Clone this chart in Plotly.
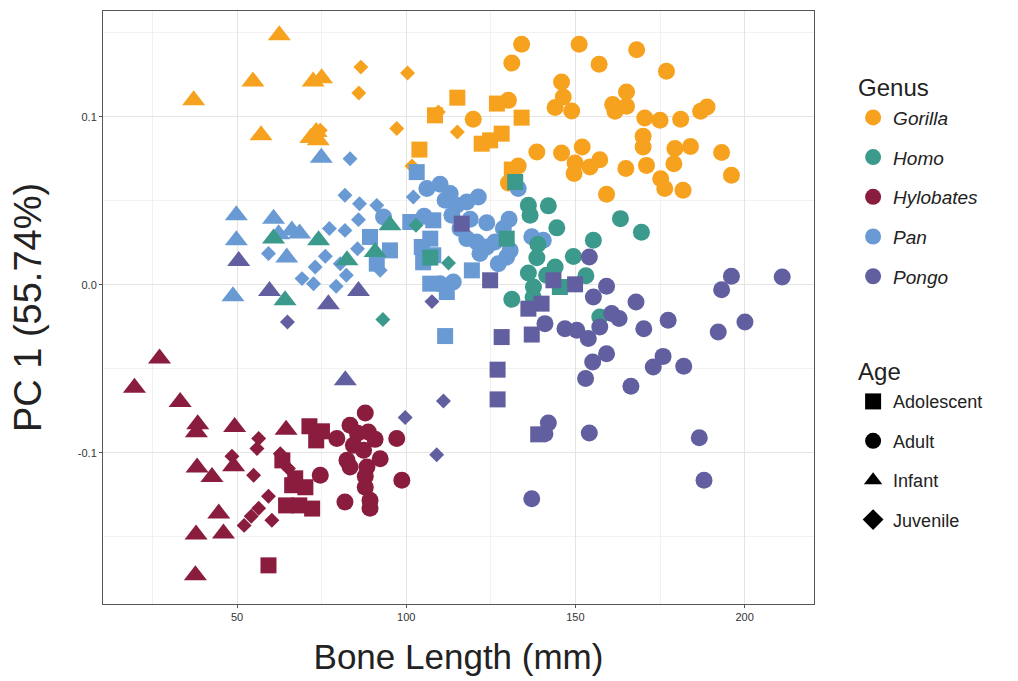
import plotly.graph_objects as go

# ---------------- data (Bone Length mm, PC1) ----------------
GENERA = ["Gorilla", "Homo", "Hylobates", "Pan", "Pongo"]
AGES = ["Adolescent", "Adult", "Infant", "Juvenile"]

gorilla_len = [62.5, 54.7, 72.5, 75.0, 37.2, 57.1, 71.8, 74.0, 73.4,
               86.6, 100.4, 86.0, 97.2, 74.6, 101.7, 115.1, 109.5,
               115.1, 108.5, 126.8, 134.1, 122.3, 124.8, 128.2, 103.9, 131.2,
               134.1, 151.1, 168.1, 131.2, 157.0, 176.9, 145.9, 146.4, 144.0, 148.9,
               165.1, 161.0, 161.7, 165.1, 130.2, 119.8, 170.5, 175.0, 181.1, 187.0,
               188.9, 138.6, 145.9, 152.0, 149.9, 149.6, 154.3, 157.2, 164.9, 170.0,
               170.0, 171.0, 179.4, 184.0, 179.1, 193.2, 196.1, 175.2, 176.4, 181.8,
               159.2, 133.1, 130.2]
gorilla_pc1 = [0.1485, 0.1211, 0.121, 0.123, 0.1098, 0.089, 0.0874, 0.086, 0.091,
               0.1296, 0.1261, 0.1142, 0.0930, 0.0920, 0.0707, 0.0910, 0.1029,
               0.1114, 0.1009, 0.1079, 0.0995, 0.0840, 0.0860, 0.0900, 0.0805, 0.0686,
               0.1432, 0.1432, 0.1400, 0.1320, 0.1313, 0.1271, 0.1207, 0.1118, 0.1055, 0.1035,
               0.1148, 0.1074, 0.1033, 0.1063, 0.1098, 0.0985, 0.0993, 0.0979, 0.0985, 0.1033,
               0.1058, 0.0790, 0.0785, 0.0820, 0.0725, 0.0662, 0.0701, 0.0745, 0.0692, 0.0884,
               0.0820, 0.0711, 0.0811, 0.0824, 0.0721, 0.0787, 0.0652, 0.0632, 0.0573, 0.0563,
               0.0539, 0.0707, 0.0606]
gorilla_age = ["Infant"] * 9 + ["Juvenile"] * 8 + ["Adolescent"] * 9 + ["Adult"] * 43

pan_len = [49.8, 49.8, 48.8, 60.8, 66.2, 68.5, 64.7, 62.3, 74.9,
           83.4, 81.9, 86.2, 91.3, 85.9, 77.3, 81.9, 102.1, 85.6, 76.1, 73.1, 69.2,
           80.5, 82.3, 79.3, 59.3, 92.3, 72.6,
           103.1, 101.2, 108.0, 89.3, 95.2, 91.3, 104.6, 107.1, 108.0, 119.4, 107.1,
           112.0, 111.5, 105.0,
           106.1, 110.0, 113.0, 111.5, 114.9, 117.9, 121.3, 113.5, 118.9, 123.8, 117.9,
           120.8, 123.8, 126.2, 128.7, 130.4, 130.7, 127.2, 129.7, 121.8, 113.9, 110.0,
           93.3, 133.1, 137.1, 140.5, 105.3, 115.9]
pan_pc1 = [0.0414, 0.0265, -0.0068, 0.0394, 0.0324, 0.0305, 0.0162, 0.0301, 0.0757,
           0.0751, 0.0533, 0.0483, 0.0473, 0.0388, 0.0335, 0.0324, 0.0523, 0.0215, 0.0170,
           0.0106, 0.0037, 0.0126, 0.0057, -0.0009, 0.0186, 0.0086, 0.0007,
           0.0671, 0.0374, 0.0384, 0.0285, 0.0205, 0.0126, 0.0225, 0.0275, 0.0176, 0.0086,
           0.0007, -0.0043, -0.0305, 0.0134,
           0.0573, 0.0598, 0.0543, 0.0503, 0.0473, 0.0493, 0.0523, 0.0414, 0.0390, 0.0369,
           0.0275, 0.0255, 0.0225, 0.0255, 0.0335, 0.0390, 0.0205, 0.0126, 0.0165, 0.0186,
           0.0017, 0.0007, 0.0404, 0.0573, 0.0286, 0.0265, 0.0408, 0.0336]
pan_age = ["Infant"] * 9 + ["Juvenile"] * 18 + ["Adolescent"] * 14 + ["Adult"] * 28

homo_len = [60.8, 74.1, 64.2, 95.2, 90.8, 82.5,
            93.1, 112.5, 102.9,
            132.2, 107.1, 129.7, 145.4,
            136.1, 142.0, 136.6, 144.5, 163.3, 169.5, 155.3, 138.9, 138.6, 149.4, 144.0,
            153.1, 136.1, 137.6, 131.2, 137.5, 157.2, 141.5]
homo_pc1 = [0.0275, 0.0265, -0.0092, 0.0354, 0.0195, 0.0146,
            -0.0207, 0.0130, 0.0354,
            0.0612, 0.0162, 0.0275, -0.0013,
            0.0473, 0.0470, 0.0414, 0.0339, 0.0394, 0.0313, 0.0265, 0.0241, 0.0161, 0.0168,
            0.0106, 0.0054, 0.0071, -0.0013, -0.0086, -0.0074, -0.0192, 0.0057]
homo_age = ["Infant"] * 6 + ["Juvenile"] * 3 + ["Adolescent"] * 4 + ["Adult"] * 18

hylobates_len = [27.1, 19.7, 33.2, 38.4, 38.0, 49.3, 38.2, 42.6, 49.0, 64.5, 44.6, 37.9,
                 46.0, 37.7,
                 56.4, 55.9, 48.5, 54.9, 62.8, 65.2, 59.3, 56.4, 54.2, 52.1, 60.3,
                 71.4, 75.1, 73.4, 63.4, 66.3, 70.2, 64.5, 68.4, 72.2, 67.2, 59.3,
                 87.9, 83.4, 88.8, 79.5, 84.4, 87.4, 92.3, 82.5, 83.4, 88.4, 87.9, 87.9,
                 74.6, 81.9, 89.3, 89.3, 97.2, 98.7, 90.8, 85.6]
hylobates_pc1 = [-0.0439, -0.0612, -0.0698, -0.0830, -0.0878, -0.0846, -0.1088, -0.1144,
                 -0.1080, -0.0862, -0.1362, -0.1487, -0.1481, -0.1729,
                 -0.0915, -0.0975, -0.1021, -0.1134, -0.1005, -0.1094, -0.1259, -0.1330,
                 -0.1378, -0.1432, -0.1402,
                 -0.0842, -0.0872, -0.0926, -0.1045, -0.1193, -0.1205, -0.1313, -0.1313,
                 -0.1332, -0.1152, -0.1670,
                 -0.0763, -0.0836, -0.0876, -0.0915, -0.0955, -0.0985, -0.1035, -0.1045,
                 -0.1085, -0.1085, -0.1140, -0.1205, -0.1134, -0.1293, -0.1283, -0.1330,
                 -0.0915, -0.1164, -0.0920, -0.0884]
hylobates_age = ["Infant"] * 14 + ["Juvenile"] * 11 + ["Adolescent"] * 11 + ["Adult"] * 20

pongo_len = [50.5, 59.6, 77.0, 85.9, 82.0,
             64.9, 107.6, 99.7, 111.0, 109.0,
             116.4, 124.8, 143.5, 149.9, 136.1, 140.0, 128.2, 137.1, 127.0, 127.0, 139.0,
             154.1, 159.2, 155.3, 167.9, 160.7, 162.9, 141.0, 146.9, 150.4, 153.8, 157.2,
             170.2, 177.4, 196.1, 193.2, 211.1, 200.1, 192.2, 159.2, 155.1, 175.9, 173.0,
             182.0, 153.0, 166.4, 142.0, 141.0, 154.1, 186.6, 188.0, 137.1]
pongo_pc1 = [0.0142, -0.0037, -0.0116, -0.0037, -0.0568,
             -0.0221, -0.0100, -0.0790, -0.0692, -0.1011,
             0.0364, 0.0027, 0.0027, 0.0003, -0.0142, -0.0112, -0.0311, -0.0296, -0.0505,
             -0.0682, -0.0890,
             0.0165, -0.0009, -0.0073, -0.0102, -0.0171, -0.0201, -0.0231, -0.0261, -0.0271,
             -0.0320, -0.0251, -0.0261, -0.0211, 0.0051, -0.0029, 0.0046, -0.0221, -0.0281,
             -0.0410, -0.0460, -0.0426, -0.0489, -0.0485, -0.0558, -0.0604, -0.0823, -0.0886,
             -0.0882, -0.0910, -0.1164, -0.1273]
pongo_age = ["Infant"] * 5 + ["Juvenile"] * 5 + ["Adolescent"] * 11 + ["Adult"] * 31

X_TICKS = [50, 100, 150, 200]
Y_TICKS = [-0.1, 0.0, 0.1]
Y_TICK_TEXT = ["-0.1", "0.0", "0.1"]

# ---------------- styles ----------------
COLORS = {"Gorilla": "#F6A21E", "Homo": "#3B9A8C", "Hylobates": "#8A1C3E",
          "Pan": "#6A9AD3", "Pongo": "#625FA0"}
SYMBOLS = {"Adolescent": "square", "Adult": "circle", "Infant": "triangle-up",
           "Juvenile": "diamond"}
SIZES = {"Adolescent": 16, "Adult": 17, "Infant": 20, "Juvenile": 11.5}

data = {
    "Gorilla": (gorilla_len, gorilla_pc1, gorilla_age),
    "Pan": (pan_len, pan_pc1, pan_age),
    "Homo": (homo_len, homo_pc1, homo_age),
    "Hylobates": (hylobates_len, hylobates_pc1, hylobates_age),
    "Pongo": (pongo_len, pongo_pc1, pongo_age),
}

fig = go.Figure()
for genus, (xs, ys, ages) in data.items():
    for age in AGES:
        px = [x for x, a in zip(xs, ages) if a == age]
        py = [y for y, a in zip(ys, ages) if a == age]
        if not px:
            continue
        fig.add_trace(go.Scatter(
            x=px, y=py, mode="markers", showlegend=False,
            marker=dict(color=COLORS[genus], symbol=SYMBOLS[age], size=SIZES[age],
                        line=dict(width=0)),
            name=f"{genus} {age}"))

# legend entries
for i, genus in enumerate(GENERA):
    fig.add_trace(go.Scatter(
        x=[None], y=[None], mode="markers", name=f"<i>{genus}</i>",
        legend="legend", legendgroup=genus,
        legendgrouptitle=dict(text="Genus") if i == 0 else None,
        marker=dict(color=COLORS[genus], symbol="circle", size=16)))
for i, age in enumerate(AGES):
    fig.add_trace(go.Scatter(
        x=[None], y=[None], mode="markers", name=age,
        legend="legend2", legendgroup=age,
        legendgrouptitle=dict(text="Age") if i == 0 else None,
        marker=dict(color="black", symbol=SYMBOLS[age], size=16)))

axis_common = dict(
    showline=True, linecolor="#555555", linewidth=1, mirror=True,
    showgrid=True, gridcolor="#e4e4e4", gridwidth=1,
    ticks="outside", ticklen=3, tickcolor="#555555",
    tickfont=dict(family="Liberation Sans, Arial", size=11, color="#333333"),
    zeroline=False,
)

fig.update_layout(
    width=1018, height=681,
    margin=dict(l=103, r=204, t=11, b=77),
    paper_bgcolor="white", plot_bgcolor="white",
    font=dict(family="Liberation Sans, Arial", color="#222222"),
    xaxis=dict(range=[10.4, 220.5], tickvals=X_TICKS,
               minor=dict(dtick=25, tick0=0, showgrid=True, gridcolor="#f1f1f1", ticks=""),
               title=dict(text="Bone Length (mm)", font=dict(size=35), standoff=22),
               **axis_common),
    yaxis=dict(range=[-0.190, 0.163], tickvals=Y_TICKS, ticktext=Y_TICK_TEXT,
               minor=dict(dtick=0.05, tick0=0, showgrid=True, gridcolor="#f1f1f1", ticks=""),
               title=dict(text="PC 1 (55.74%)", font=dict(size=38), standoff=24),
               **axis_common),
    legend=dict(x=1.055, y=0.910, xanchor="left", yanchor="top",
                font=dict(size=19), tracegroupgap=12,
                grouptitlefont=dict(size=24), itemsizing="trace"),
    legend2=dict(x=1.055, y=0.430, xanchor="left", yanchor="top",
                 font=dict(size=18), tracegroupgap=13,
                 grouptitlefont=dict(size=24), itemsizing="trace"),
)

fig.write_html("out.html")
